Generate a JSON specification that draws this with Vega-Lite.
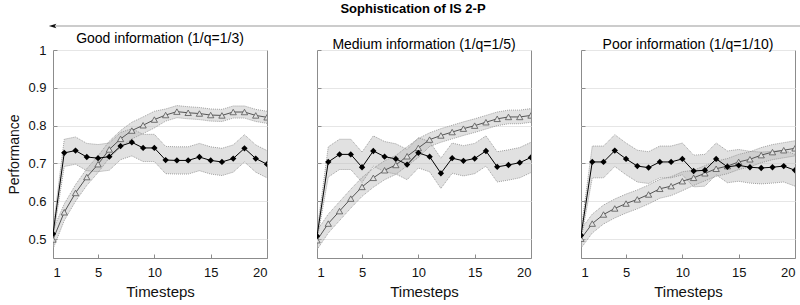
{
"$schema": "https://vega.github.io/schema/vega-lite/v6.json",
"background": "white",
"padding": {"left": 7, "top": 3, "right": 0, "bottom": 0},
"bounds": "flush",
"spacing": 19,
"config": {
 "font": "Liberation Sans",
 "view": {"stroke": "#8c8c8c", "strokeWidth": 1},
 "title": {"fontSize": 14, "fontWeight": "normal", "color": "#000", "offset": -2, "font": "Liberation Sans"},
 "axis": {"labelFont": "Liberation Sans", "labelFontSize": 13, "labelColor": "#111", "titleFont": "Liberation Sans", "titleFontWeight": "normal", "titleFontSize": 15, "titleColor": "#111", "domain": false, "tickColor": "#8c8c8c", "tickSize": -4, "gridColor": "#e6e6e6"},
 "axisX": {"grid": false, "labelPadding": 12, "titlePadding": 5},
 "axisY": {"grid": true, "labelPadding": 11, "titlePadding": 6}
},
"datasets": {
 "arrow": [{"a": 0, "b": 1, "y": 0}],
 "perf": [
{"p":"Good","s":"A","t":1,"v":0.514,"lo":0.502,"hi":0.526},
{"p":"Good","s":"A","t":2,"v":0.728,"lo":0.692,"hi":0.764},
{"p":"Good","s":"A","t":3,"v":0.734,"lo":0.698,"hi":0.770},
{"p":"Good","s":"A","t":4,"v":0.717,"lo":0.681,"hi":0.753},
{"p":"Good","s":"A","t":5,"v":0.714,"lo":0.678,"hi":0.750},
{"p":"Good","s":"A","t":6,"v":0.718,"lo":0.682,"hi":0.754},
{"p":"Good","s":"A","t":7,"v":0.746,"lo":0.710,"hi":0.782},
{"p":"Good","s":"A","t":8,"v":0.756,"lo":0.720,"hi":0.792},
{"p":"Good","s":"A","t":9,"v":0.741,"lo":0.705,"hi":0.777},
{"p":"Good","s":"A","t":10,"v":0.741,"lo":0.705,"hi":0.777},
{"p":"Good","s":"A","t":11,"v":0.709,"lo":0.673,"hi":0.745},
{"p":"Good","s":"A","t":12,"v":0.708,"lo":0.672,"hi":0.744},
{"p":"Good","s":"A","t":13,"v":0.708,"lo":0.672,"hi":0.744},
{"p":"Good","s":"A","t":14,"v":0.717,"lo":0.681,"hi":0.753},
{"p":"Good","s":"A","t":15,"v":0.708,"lo":0.672,"hi":0.744},
{"p":"Good","s":"A","t":16,"v":0.704,"lo":0.668,"hi":0.740},
{"p":"Good","s":"A","t":17,"v":0.713,"lo":0.677,"hi":0.749},
{"p":"Good","s":"A","t":18,"v":0.740,"lo":0.704,"hi":0.776},
{"p":"Good","s":"A","t":19,"v":0.713,"lo":0.677,"hi":0.749},
{"p":"Good","s":"A","t":20,"v":0.698,"lo":0.662,"hi":0.734},
{"p":"Good","s":"B","t":1,"v":0.499,"lo":0.474,"hi":0.524},
{"p":"Good","s":"B","t":2,"v":0.571,"lo":0.549,"hi":0.593},
{"p":"Good","s":"B","t":3,"v":0.622,"lo":0.600,"hi":0.644},
{"p":"Good","s":"B","t":4,"v":0.664,"lo":0.642,"hi":0.686},
{"p":"Good","s":"B","t":5,"v":0.698,"lo":0.676,"hi":0.720},
{"p":"Good","s":"B","t":6,"v":0.737,"lo":0.715,"hi":0.759},
{"p":"Good","s":"B","t":7,"v":0.765,"lo":0.743,"hi":0.787},
{"p":"Good","s":"B","t":8,"v":0.787,"lo":0.765,"hi":0.809},
{"p":"Good","s":"B","t":9,"v":0.801,"lo":0.779,"hi":0.823},
{"p":"Good","s":"B","t":10,"v":0.816,"lo":0.794,"hi":0.838},
{"p":"Good","s":"B","t":11,"v":0.828,"lo":0.812,"hi":0.844},
{"p":"Good","s":"B","t":12,"v":0.837,"lo":0.821,"hi":0.853},
{"p":"Good","s":"B","t":13,"v":0.834,"lo":0.818,"hi":0.850},
{"p":"Good","s":"B","t":14,"v":0.832,"lo":0.816,"hi":0.848},
{"p":"Good","s":"B","t":15,"v":0.828,"lo":0.812,"hi":0.844},
{"p":"Good","s":"B","t":16,"v":0.827,"lo":0.811,"hi":0.843},
{"p":"Good","s":"B","t":17,"v":0.836,"lo":0.820,"hi":0.852},
{"p":"Good","s":"B","t":18,"v":0.836,"lo":0.820,"hi":0.852},
{"p":"Good","s":"B","t":19,"v":0.827,"lo":0.811,"hi":0.843},
{"p":"Good","s":"B","t":20,"v":0.822,"lo":0.806,"hi":0.838},
{"p":"Medium","s":"A","t":1,"v":0.508,"lo":0.496,"hi":0.520},
{"p":"Medium","s":"A","t":2,"v":0.704,"lo":0.664,"hi":0.744},
{"p":"Medium","s":"A","t":3,"v":0.724,"lo":0.684,"hi":0.764},
{"p":"Medium","s":"A","t":4,"v":0.724,"lo":0.684,"hi":0.764},
{"p":"Medium","s":"A","t":5,"v":0.690,"lo":0.650,"hi":0.730},
{"p":"Medium","s":"A","t":6,"v":0.733,"lo":0.693,"hi":0.773},
{"p":"Medium","s":"A","t":7,"v":0.718,"lo":0.678,"hi":0.758},
{"p":"Medium","s":"A","t":8,"v":0.712,"lo":0.672,"hi":0.752},
{"p":"Medium","s":"A","t":9,"v":0.697,"lo":0.657,"hi":0.737},
{"p":"Medium","s":"A","t":10,"v":0.728,"lo":0.688,"hi":0.768},
{"p":"Medium","s":"A","t":11,"v":0.718,"lo":0.678,"hi":0.758},
{"p":"Medium","s":"A","t":12,"v":0.674,"lo":0.634,"hi":0.714},
{"p":"Medium","s":"A","t":13,"v":0.714,"lo":0.674,"hi":0.754},
{"p":"Medium","s":"A","t":14,"v":0.707,"lo":0.667,"hi":0.747},
{"p":"Medium","s":"A","t":15,"v":0.713,"lo":0.673,"hi":0.753},
{"p":"Medium","s":"A","t":16,"v":0.733,"lo":0.693,"hi":0.773},
{"p":"Medium","s":"A","t":17,"v":0.691,"lo":0.651,"hi":0.731},
{"p":"Medium","s":"A","t":18,"v":0.696,"lo":0.656,"hi":0.736},
{"p":"Medium","s":"A","t":19,"v":0.702,"lo":0.662,"hi":0.742},
{"p":"Medium","s":"A","t":20,"v":0.716,"lo":0.676,"hi":0.756},
{"p":"Medium","s":"B","t":1,"v":0.497,"lo":0.472,"hi":0.522},
{"p":"Medium","s":"B","t":2,"v":0.541,"lo":0.516,"hi":0.566},
{"p":"Medium","s":"B","t":3,"v":0.574,"lo":0.549,"hi":0.599},
{"p":"Medium","s":"B","t":4,"v":0.607,"lo":0.582,"hi":0.632},
{"p":"Medium","s":"B","t":5,"v":0.638,"lo":0.613,"hi":0.663},
{"p":"Medium","s":"B","t":6,"v":0.662,"lo":0.637,"hi":0.687},
{"p":"Medium","s":"B","t":7,"v":0.682,"lo":0.657,"hi":0.707},
{"p":"Medium","s":"B","t":8,"v":0.696,"lo":0.671,"hi":0.721},
{"p":"Medium","s":"B","t":9,"v":0.719,"lo":0.694,"hi":0.744},
{"p":"Medium","s":"B","t":10,"v":0.741,"lo":0.716,"hi":0.766},
{"p":"Medium","s":"B","t":11,"v":0.763,"lo":0.745,"hi":0.781},
{"p":"Medium","s":"B","t":12,"v":0.774,"lo":0.756,"hi":0.792},
{"p":"Medium","s":"B","t":13,"v":0.783,"lo":0.765,"hi":0.801},
{"p":"Medium","s":"B","t":14,"v":0.792,"lo":0.774,"hi":0.810},
{"p":"Medium","s":"B","t":15,"v":0.800,"lo":0.782,"hi":0.818},
{"p":"Medium","s":"B","t":16,"v":0.809,"lo":0.791,"hi":0.827},
{"p":"Medium","s":"B","t":17,"v":0.818,"lo":0.800,"hi":0.836},
{"p":"Medium","s":"B","t":18,"v":0.823,"lo":0.805,"hi":0.841},
{"p":"Medium","s":"B","t":19,"v":0.823,"lo":0.805,"hi":0.841},
{"p":"Medium","s":"B","t":20,"v":0.827,"lo":0.809,"hi":0.845},
{"p":"Poor","s":"A","t":1,"v":0.510,"lo":0.498,"hi":0.522},
{"p":"Poor","s":"A","t":2,"v":0.704,"lo":0.662,"hi":0.746},
{"p":"Poor","s":"A","t":3,"v":0.704,"lo":0.662,"hi":0.746},
{"p":"Poor","s":"A","t":4,"v":0.734,"lo":0.692,"hi":0.776},
{"p":"Poor","s":"A","t":5,"v":0.712,"lo":0.670,"hi":0.754},
{"p":"Poor","s":"A","t":6,"v":0.693,"lo":0.651,"hi":0.735},
{"p":"Poor","s":"A","t":7,"v":0.689,"lo":0.647,"hi":0.731},
{"p":"Poor","s":"A","t":8,"v":0.704,"lo":0.662,"hi":0.746},
{"p":"Poor","s":"A","t":9,"v":0.704,"lo":0.662,"hi":0.746},
{"p":"Poor","s":"A","t":10,"v":0.712,"lo":0.670,"hi":0.754},
{"p":"Poor","s":"A","t":11,"v":0.680,"lo":0.638,"hi":0.722},
{"p":"Poor","s":"A","t":12,"v":0.682,"lo":0.640,"hi":0.724},
{"p":"Poor","s":"A","t":13,"v":0.712,"lo":0.670,"hi":0.754},
{"p":"Poor","s":"A","t":14,"v":0.691,"lo":0.649,"hi":0.733},
{"p":"Poor","s":"A","t":15,"v":0.695,"lo":0.653,"hi":0.737},
{"p":"Poor","s":"A","t":16,"v":0.690,"lo":0.648,"hi":0.732},
{"p":"Poor","s":"A","t":17,"v":0.688,"lo":0.646,"hi":0.730},
{"p":"Poor","s":"A","t":18,"v":0.690,"lo":0.648,"hi":0.732},
{"p":"Poor","s":"A","t":19,"v":0.693,"lo":0.651,"hi":0.735},
{"p":"Poor","s":"A","t":20,"v":0.682,"lo":0.640,"hi":0.724},
{"p":"Poor","s":"B","t":1,"v":0.501,"lo":0.476,"hi":0.526},
{"p":"Poor","s":"B","t":2,"v":0.541,"lo":0.516,"hi":0.566},
{"p":"Poor","s":"B","t":3,"v":0.565,"lo":0.540,"hi":0.590},
{"p":"Poor","s":"B","t":4,"v":0.581,"lo":0.556,"hi":0.606},
{"p":"Poor","s":"B","t":5,"v":0.594,"lo":0.569,"hi":0.619},
{"p":"Poor","s":"B","t":6,"v":0.605,"lo":0.580,"hi":0.630},
{"p":"Poor","s":"B","t":7,"v":0.618,"lo":0.593,"hi":0.643},
{"p":"Poor","s":"B","t":8,"v":0.633,"lo":0.608,"hi":0.658},
{"p":"Poor","s":"B","t":9,"v":0.640,"lo":0.615,"hi":0.665},
{"p":"Poor","s":"B","t":10,"v":0.653,"lo":0.628,"hi":0.678},
{"p":"Poor","s":"B","t":11,"v":0.662,"lo":0.642,"hi":0.682},
{"p":"Poor","s":"B","t":12,"v":0.674,"lo":0.654,"hi":0.694},
{"p":"Poor","s":"B","t":13,"v":0.686,"lo":0.666,"hi":0.706},
{"p":"Poor","s":"B","t":14,"v":0.693,"lo":0.673,"hi":0.713},
{"p":"Poor","s":"B","t":15,"v":0.704,"lo":0.684,"hi":0.724},
{"p":"Poor","s":"B","t":16,"v":0.711,"lo":0.691,"hi":0.731},
{"p":"Poor","s":"B","t":17,"v":0.722,"lo":0.702,"hi":0.742},
{"p":"Poor","s":"B","t":18,"v":0.730,"lo":0.710,"hi":0.750},
{"p":"Poor","s":"B","t":19,"v":0.735,"lo":0.715,"hi":0.755},
{"p":"Poor","s":"B","t":20,"v":0.740,"lo":0.720,"hi":0.760}
 ]
},
"vconcat": [
 {
  "width": 748, "height": 10,
  "title": {"text": "Sophistication of IS 2-P", "fontWeight": "bold", "fontSize": 13, "anchor": "middle", "dx": -14, "offset": 5},
  "view": {"stroke": null},
  "data": {"name": "arrow"},
  "layer": [
   {"mark": {"type": "rule", "color": "#9a9a9a", "strokeWidth": 1.2},
    "encoding": {"x": {"field": "a", "type": "quantitative", "scale": {"domain": [0, 1]}, "axis": null}, "x2": {"field": "b"},
                 "y": {"field": "y", "type": "quantitative", "scale": {"domain": [-1, 1]}, "axis": null}}},
   {"mark": {"type": "point", "shape": "M0.8,-0.55L-1,0L0.8,0.55L0.4,0Z", "filled": true, "color": "#111", "size": 70, "opacity": 1},
    "encoding": {"x": {"field": "a", "type": "quantitative", "scale": {"domain": [0, 1]}, "axis": null},
                 "y": {"field": "y", "type": "quantitative", "scale": {"domain": [-1, 1]}, "axis": null}}}
  ]
 },
 {
  "hconcat": [
   {
    "width": 214, "height": 208,
    "title": {"text": "Good information (1/q=1/3)"},
    "data": {"name": "perf"},
    "transform": [{"filter": "datum.p === 'Good'"}],
    "encoding": {"x": {"field": "t", "type": "quantitative", "scale": {"domain": [1, 20]}, "axis": {"values": [1, 5, 10, 15, 20], "title": "Timesteps"}}},
    "layer": [
     {"transform": [{"filter": "datum.s === 'A'"}], "mark": {"type": "area", "color": "#bdbdbd", "opacity": 0.45, "clip": true},
      "encoding": {"y": {"field": "lo", "type": "quantitative", "scale": {"domain": [0.45, 1]}, "axis": {"values": [0.5, 0.6, 0.7, 0.8, 0.9, 1], "format": "~g", "title": "Performance", "titleFontSize": 14}}, "y2": {"field": "hi"}}},
     {"transform": [{"filter": "datum.s === 'B'"}], "mark": {"type": "area", "color": "#bdbdbd", "opacity": 0.45, "clip": true},
      "encoding": {"y": {"field": "lo", "type": "quantitative", "scale": {"domain": [0.45, 1]}}, "y2": {"field": "hi"}}},
     {"mark": {"type": "line", "color": "#8c8c8c", "strokeWidth": 0.8, "strokeDash": [1, 1], "clip": true},
      "encoding": {"y": {"field": "lo", "type": "quantitative", "scale": {"domain": [0.45, 1]}}, "detail": {"field": "s"}}},
     {"mark": {"type": "line", "color": "#8c8c8c", "strokeWidth": 0.8, "strokeDash": [1, 1], "clip": true},
      "encoding": {"y": {"field": "hi", "type": "quantitative", "scale": {"domain": [0.45, 1]}}, "detail": {"field": "s"}}},
     {"transform": [{"filter": "datum.s === 'B'"}], "mark": {"type": "line", "color": "#555", "strokeWidth": 1, "clip": true},
      "encoding": {"y": {"field": "v", "type": "quantitative", "scale": {"domain": [0.45, 1]}}}},
     {"transform": [{"filter": "datum.s === 'B'"}], "mark": {"type": "point", "shape": "triangle-up", "filled": true, "fill": "#e0e0e0", "stroke": "#555", "strokeWidth": 0.8, "size": 40, "opacity": 1, "clip": true},
      "encoding": {"y": {"field": "v", "type": "quantitative", "scale": {"domain": [0.45, 1]}}}},
     {"transform": [{"filter": "datum.s === 'A'"}], "mark": {"type": "line", "color": "#000", "strokeWidth": 1, "clip": true},
      "encoding": {"y": {"field": "v", "type": "quantitative", "scale": {"domain": [0.45, 1]}}}},
     {"transform": [{"filter": "datum.s === 'A'"}], "mark": {"type": "point", "shape": "diamond", "filled": true, "color": "#000", "size": 40, "opacity": 1, "clip": true},
      "encoding": {"y": {"field": "v", "type": "quantitative", "scale": {"domain": [0.45, 1]}}}}
    ]
   },
   {
    "width": 214, "height": 208,
    "title": {"text": "Medium information (1/q=1/5)"},
    "data": {"name": "perf"},
    "transform": [{"filter": "datum.p === 'Medium'"}],
    "encoding": {"x": {"field": "t", "type": "quantitative", "scale": {"domain": [1, 20]}, "axis": {"values": [1, 5, 10, 15, 20], "title": "Timesteps"}}},
    "layer": [
     {"transform": [{"filter": "datum.s === 'A'"}], "mark": {"type": "area", "color": "#bdbdbd", "opacity": 0.45, "clip": true},
      "encoding": {"y": {"field": "lo", "type": "quantitative", "scale": {"domain": [0.45, 1]}, "axis": {"values": [0.5, 0.6, 0.7, 0.8, 0.9, 1], "labels": false, "title": null}}, "y2": {"field": "hi"}}},
     {"transform": [{"filter": "datum.s === 'B'"}], "mark": {"type": "area", "color": "#bdbdbd", "opacity": 0.45, "clip": true},
      "encoding": {"y": {"field": "lo", "type": "quantitative", "scale": {"domain": [0.45, 1]}}, "y2": {"field": "hi"}}},
     {"mark": {"type": "line", "color": "#8c8c8c", "strokeWidth": 0.8, "strokeDash": [1, 1], "clip": true},
      "encoding": {"y": {"field": "lo", "type": "quantitative", "scale": {"domain": [0.45, 1]}}, "detail": {"field": "s"}}},
     {"mark": {"type": "line", "color": "#8c8c8c", "strokeWidth": 0.8, "strokeDash": [1, 1], "clip": true},
      "encoding": {"y": {"field": "hi", "type": "quantitative", "scale": {"domain": [0.45, 1]}}, "detail": {"field": "s"}}},
     {"transform": [{"filter": "datum.s === 'B'"}], "mark": {"type": "line", "color": "#555", "strokeWidth": 1, "clip": true},
      "encoding": {"y": {"field": "v", "type": "quantitative", "scale": {"domain": [0.45, 1]}}}},
     {"transform": [{"filter": "datum.s === 'B'"}], "mark": {"type": "point", "shape": "triangle-up", "filled": true, "fill": "#e0e0e0", "stroke": "#555", "strokeWidth": 0.8, "size": 40, "opacity": 1, "clip": true},
      "encoding": {"y": {"field": "v", "type": "quantitative", "scale": {"domain": [0.45, 1]}}}},
     {"transform": [{"filter": "datum.s === 'A'"}], "mark": {"type": "line", "color": "#000", "strokeWidth": 1, "clip": true},
      "encoding": {"y": {"field": "v", "type": "quantitative", "scale": {"domain": [0.45, 1]}}}},
     {"transform": [{"filter": "datum.s === 'A'"}], "mark": {"type": "point", "shape": "diamond", "filled": true, "color": "#000", "size": 40, "opacity": 1, "clip": true},
      "encoding": {"y": {"field": "v", "type": "quantitative", "scale": {"domain": [0.45, 1]}}}}
    ]
   },
   {
    "width": 214, "height": 208,
    "title": {"text": "Poor information (1/q=1/10)"},
    "data": {"name": "perf"},
    "transform": [{"filter": "datum.p === 'Poor'"}],
    "encoding": {"x": {"field": "t", "type": "quantitative", "scale": {"domain": [1, 20]}, "axis": {"values": [1, 5, 10, 15, 20], "title": "Timesteps"}}},
    "layer": [
     {"transform": [{"filter": "datum.s === 'A'"}], "mark": {"type": "area", "color": "#bdbdbd", "opacity": 0.45, "clip": true},
      "encoding": {"y": {"field": "lo", "type": "quantitative", "scale": {"domain": [0.45, 1]}, "axis": {"values": [0.5, 0.6, 0.7, 0.8, 0.9, 1], "labels": false, "title": null}}, "y2": {"field": "hi"}}},
     {"transform": [{"filter": "datum.s === 'B'"}], "mark": {"type": "area", "color": "#bdbdbd", "opacity": 0.45, "clip": true},
      "encoding": {"y": {"field": "lo", "type": "quantitative", "scale": {"domain": [0.45, 1]}}, "y2": {"field": "hi"}}},
     {"mark": {"type": "line", "color": "#8c8c8c", "strokeWidth": 0.8, "strokeDash": [1, 1], "clip": true},
      "encoding": {"y": {"field": "lo", "type": "quantitative", "scale": {"domain": [0.45, 1]}}, "detail": {"field": "s"}}},
     {"mark": {"type": "line", "color": "#8c8c8c", "strokeWidth": 0.8, "strokeDash": [1, 1], "clip": true},
      "encoding": {"y": {"field": "hi", "type": "quantitative", "scale": {"domain": [0.45, 1]}}, "detail": {"field": "s"}}},
     {"transform": [{"filter": "datum.s === 'B'"}], "mark": {"type": "line", "color": "#555", "strokeWidth": 1, "clip": true},
      "encoding": {"y": {"field": "v", "type": "quantitative", "scale": {"domain": [0.45, 1]}}}},
     {"transform": [{"filter": "datum.s === 'B'"}], "mark": {"type": "point", "shape": "triangle-up", "filled": true, "fill": "#e0e0e0", "stroke": "#555", "strokeWidth": 0.8, "size": 40, "opacity": 1, "clip": true},
      "encoding": {"y": {"field": "v", "type": "quantitative", "scale": {"domain": [0.45, 1]}}}},
     {"transform": [{"filter": "datum.s === 'A'"}], "mark": {"type": "line", "color": "#000", "strokeWidth": 1, "clip": true},
      "encoding": {"y": {"field": "v", "type": "quantitative", "scale": {"domain": [0.45, 1]}}}},
     {"transform": [{"filter": "datum.s === 'A'"}], "mark": {"type": "point", "shape": "diamond", "filled": true, "color": "#000", "size": 40, "opacity": 1, "clip": true},
      "encoding": {"y": {"field": "v", "type": "quantitative", "scale": {"domain": [0.45, 1]}}}}
    ]
   }
  ],
  "spacing": 50,
  "bounds": "flush"
 }
]
}
